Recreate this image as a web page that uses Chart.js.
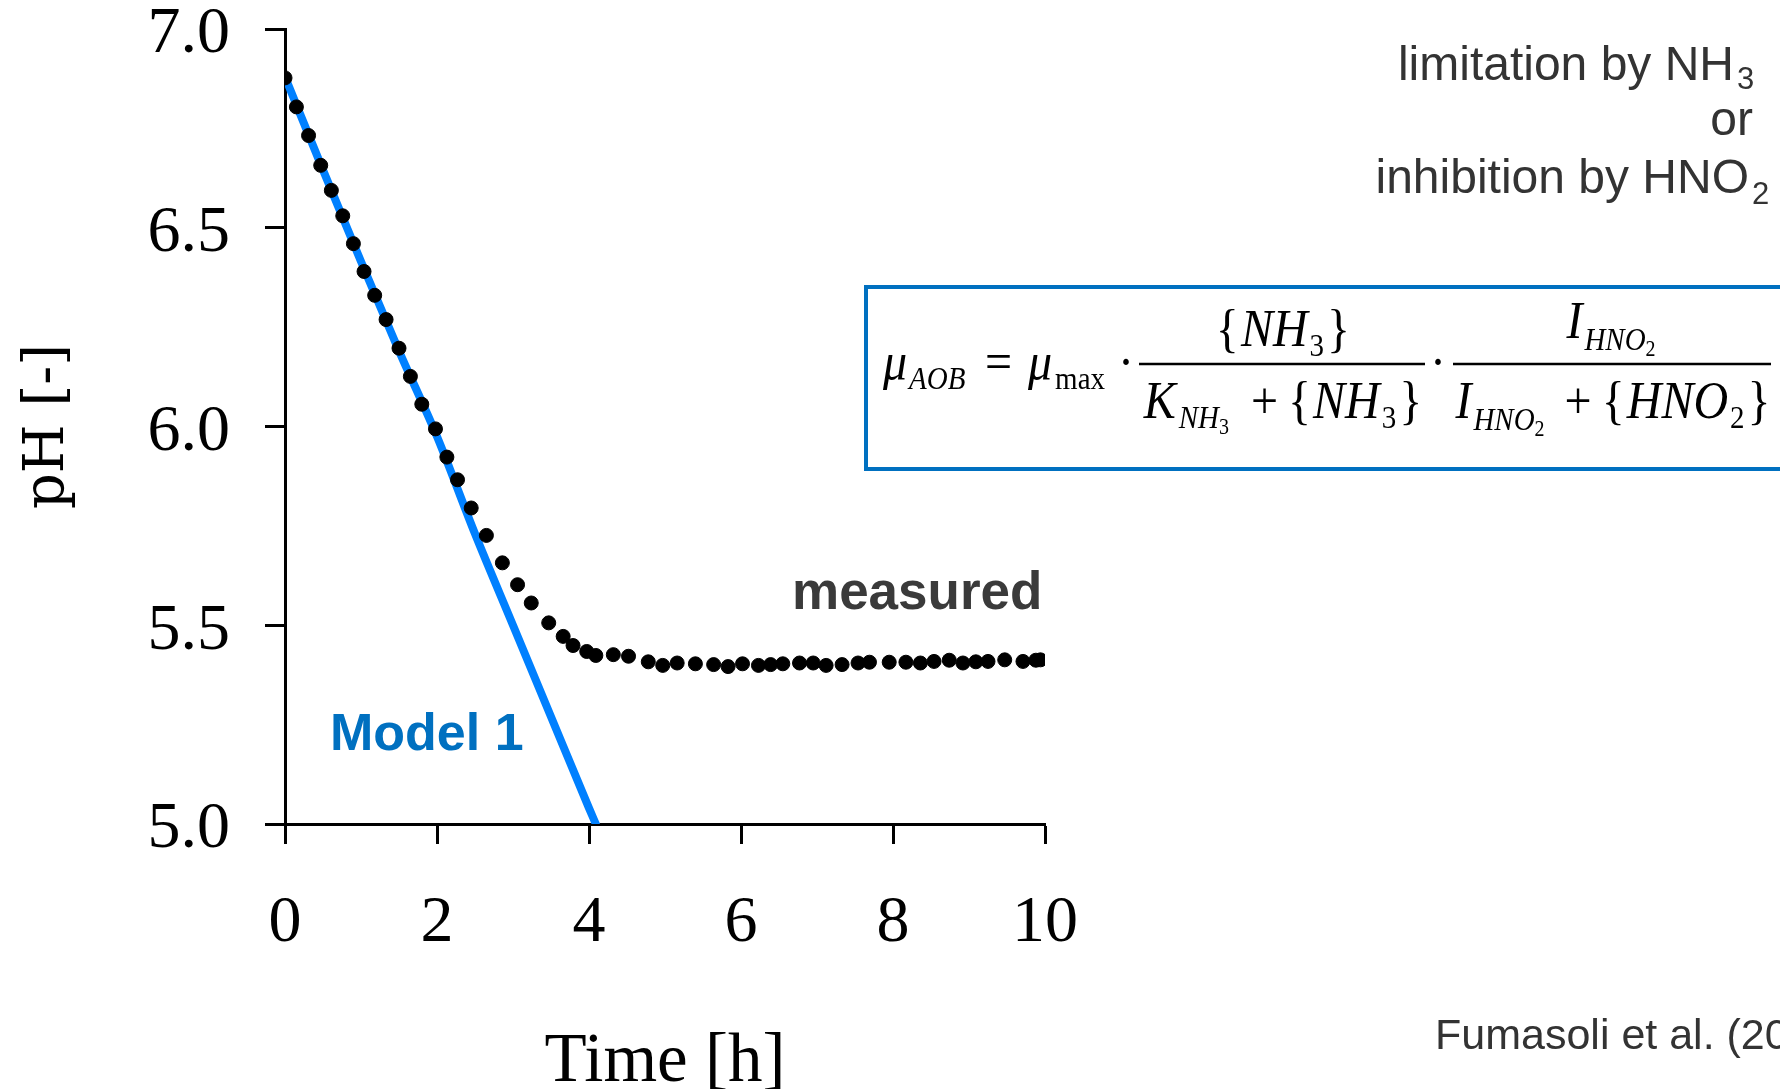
<!DOCTYPE html>
<html>
<head>
<meta charset="utf-8">
<title>pH over time</title>
<script src="https://cdn.jsdelivr.net/npm/chart.js@4.4.1/dist/chart.umd.min.js"></script>
<style>
  html, body { margin: 0; padding: 0; background: #fff; }
  #phChart { display: block; }
</style>
</head>
<body>
<canvas id="phChart" width="1780" height="1089"></canvas>
<script>
  // measured pH (black dots)
  const measuredTime = [
    0.00, 0.15, 0.31, 0.47, 0.61, 0.76, 0.90, 1.04, 1.18, 1.33,
    1.50, 1.65, 1.80, 1.98, 2.13, 2.27, 2.45, 2.65, 2.86, 3.06,
    3.24, 3.47, 3.66, 3.79, 3.97, 4.09, 4.32, 4.52, 4.78, 4.97,
    5.16, 5.40, 5.64, 5.83, 6.02, 6.23, 6.39, 6.55, 6.77, 6.95,
    7.12, 7.33, 7.54, 7.69, 7.95, 8.17, 8.36, 8.54, 8.74, 8.92,
    9.09, 9.25, 9.47, 9.71, 9.88, 9.94
  ];
  const measuredPH = [
    6.877, 6.804, 6.732, 6.657, 6.594, 6.530, 6.460, 6.390, 6.330, 6.269,
    6.197, 6.126, 6.056, 5.994, 5.923, 5.866, 5.795, 5.726, 5.657, 5.602,
    5.556, 5.506, 5.472, 5.449, 5.434, 5.424, 5.426, 5.422, 5.408, 5.399,
    5.405, 5.403, 5.401, 5.396, 5.403, 5.399, 5.401, 5.403, 5.405, 5.405,
    5.399, 5.401, 5.405, 5.407, 5.407, 5.407, 5.405, 5.409, 5.412, 5.405,
    5.408, 5.409, 5.413, 5.409, 5.412, 5.413
  ];

  // Model 1 simulation (blue line)
  const modelTime = [0.0, 0.5, 1.0, 1.5, 2.0, 2.5, 3.0, 3.5, 4.0, 4.09];
  const modelPH   = [6.88, 6.645, 6.415, 6.19, 5.975, 5.73, 5.50, 5.27, 5.04, 5.0];

  // axis ticks
  const xTickValues = [0, 2, 4, 6, 8, 10];
  const yTickValues = [5.0, 5.5, 6.0, 6.5, 7.0];

  const toPoints = (xs, ys) => xs.map((x, i) => ({ x: x, y: ys[i] }));

  const serif = '"Liberation Serif", "Times New Roman", serif';
  const wideSerif = '"DejaVu Serif", serif';
  const sans = '"Liberation Sans", Arial, sans-serif';

  // text runs for the rate expression: [text, font, dy, gap]
  const STRETCH = 1.12;
  function runWidth(ctx, parts) {
    let w = 0;
    parts.forEach(p => { ctx.font = p[1]; w += ctx.measureText(p[0]).width + (p[3] || 0); });
    return w;
  }
  function drawRun(ctx, x, y, parts) {
    parts.forEach(p => {
      ctx.font = p[1];
      ctx.save();
      ctx.translate(x, y + (p[2] || 0));
      ctx.scale(1, STRETCH);
      ctx.fillText(p[0], 0, 0);
      ctx.restore();
      x += ctx.measureText(p[0]).width + (p[3] || 0);
    });
    return x;
  }
  function drawRunCentered(ctx, cx, y, parts) {
    drawRun(ctx, cx - runWidth(ctx, parts) / 2, y, parts);
  }

  const annotations = {
    id: 'annotations',
    afterDraw(chart) {
      const ctx = chart.ctx;
      ctx.save();
      ctx.textAlign = 'left';
      ctx.textBaseline = 'alphabetic';

      // series labels
      ctx.fillStyle = '#0070C0';
      ctx.font = 'bold 52px ' + sans;
      ctx.fillText('Model 1', 330, 750);
      ctx.fillStyle = '#3a3a3a';
      ctx.font = 'bold 53px ' + sans;
      ctx.fillText('measured', 792, 609);

      // notes top right
      ctx.fillStyle = '#333';
      ctx.font = '48px ' + sans;
      ctx.textAlign = 'right';
      ctx.fillText('limitation by NH', 1734, 80);
      ctx.fillText('or', 1753, 135);
      ctx.fillText('inhibition by HNO', 1749, 193);
      ctx.textAlign = 'left';
      ctx.font = '31px ' + sans;
      ctx.fillText('3', 1737, 89);
      ctx.fillText('2', 1752, 204);

      ctx.font = '43px ' + sans;
      ctx.fillText('Fumasoli et al. (20', 1435, 1049);

      // rate expression box
      ctx.strokeStyle = '#0070C0';
      ctx.lineWidth = 4;
      ctx.strokeRect(866, 287, 1000, 182);

      const IT = 'italic 48px ' + serif;
      const RM = '48px ' + serif;
      const SIT = 'italic 29px ' + serif;
      const SRM = '29px ' + serif;
      const SS = '20px ' + serif;
      ctx.fillStyle = '#000';

      drawRun(ctx, 883, 379, [['\u03BC', IT, 0, 2], ['AOB', SIT, 10]]);
      drawRun(ctx, 985, 379, [['=', RM]]);
      drawRun(ctx, 1028, 379, [['\u03BC', IT, 0, 3], ['max', SRM, 10]]);
      drawRun(ctx, 1118, 379, [['\u00B7', RM]]);
      drawRun(ctx, 1430, 379, [['\u00B7', RM]]);

      ctx.strokeStyle = '#000';
      ctx.lineWidth = 2.5;
      ctx.beginPath();
      ctx.moveTo(1139, 364); ctx.lineTo(1425, 364);
      ctx.moveTo(1453, 364); ctx.lineTo(1771, 364);
      ctx.stroke();

      drawRunCentered(ctx, 1283, 346,
        [['{', RM, 0, 2], ['NH', IT, 0, 2], ['3', SRM, 10, 3], ['}', RM]]);
      drawRunCentered(ctx, 1283, 418,
        [['K', IT, 0, 3], ['NH', SIT, 10], ['3', SS, 16, 22], ['+', RM, 0, 10],
         ['{', RM, 0, 2], ['NH', IT, 0, 2], ['3', SRM, 10, 3], ['}', RM]]);
      drawRunCentered(ctx, 1611, 338,
        [['I', IT, 0, 2], ['HNO', SIT, 12], ['2', SS, 18]]);
      drawRunCentered(ctx, 1613, 418,
        [['I', IT, 0, 2], ['HNO', SIT, 12], ['2', SS, 18, 20], ['+', RM, 0, 10],
         ['{', RM, 0, 2], ['HNO', IT, 0, 2], ['2', SRM, 10, 3], ['}', RM]]);

      ctx.restore();
    }
  };

  const data = {
    datasets: [
      {
        label: 'measured',
        data: toPoints(measuredTime, measuredPH),
        backgroundColor: '#000',
        borderColor: '#000',
        pointRadius: 7,
        pointHoverRadius: 7,
        showLine: false
      },
      {
        label: 'Model 1',
        data: toPoints(modelTime, modelPH),
        borderColor: 'rgb(0, 128, 255)',
        borderWidth: 8,
        borderCapStyle: 'round',
        pointRadius: 0,
        showLine: true,
        cubicInterpolationMode: 'monotone'
      }
    ]
  };

  const config = {
    type: 'scatter',
    data: data,
    options: {
      responsive: false,
      animation: false,
      events: [],
      layout: { padding: { left: 0, top: 29, right: 735, bottom: 0 } },
      plugins: {
        legend: { display: false },
        tooltip: { enabled: false }
      },
      scales: {
        x: {
          type: 'linear',
          min: 0,
          max: 10,
          afterBuildTicks: s => { s.ticks = xTickValues.map(v => ({ value: v })); },
          afterFit: s => { s.height = 265; },
          ticks: {
            color: '#000',
            padding: 47,
            maxRotation: 0,
            font: { family: serif, size: 66, lineHeight: 1 }
          },
          grid: { drawOnChartArea: false, tickLength: 20, tickWidth: 3, tickColor: '#000' },
          border: { color: '#000', width: 3 },
          title: {
            display: true,
            text: 'Time [h]',
            color: '#000',
            font: { family: serif, size: 69, lineHeight: 1 },
            padding: { top: 0, bottom: -8 }
          }
        },
        y: {
          min: 5,
          max: 7,
          afterBuildTicks: s => { s.ticks = yTickValues.map(v => ({ value: v })); },
          afterFit: s => { s.width = 285; s.paddingTop = 0; s.paddingBottom = 0; },
          ticks: {
            color: '#000',
            padding: 35,
            // empty first line nudges the label a few px below its tick
            callback: v => ['', v.toFixed(1)],
            font: { family: serif, size: 66, lineHeight: 0.18 }
          },
          grid: { drawOnChartArea: false, tickLength: 20, tickWidth: 3, tickColor: '#000' },
          border: { color: '#000', width: 3 },
          title: {
            display: true,
            text: 'pH [-]',
            color: '#000',
            font: { family: wideSerif, size: 56, lineHeight: 1 },
            padding: { top: 20, bottom: 0 }
          }
        }
      }
    },
    plugins: [annotations]
  };

  const phChart = new Chart(document.getElementById('phChart'), config);
</script>
</body>
</html>
